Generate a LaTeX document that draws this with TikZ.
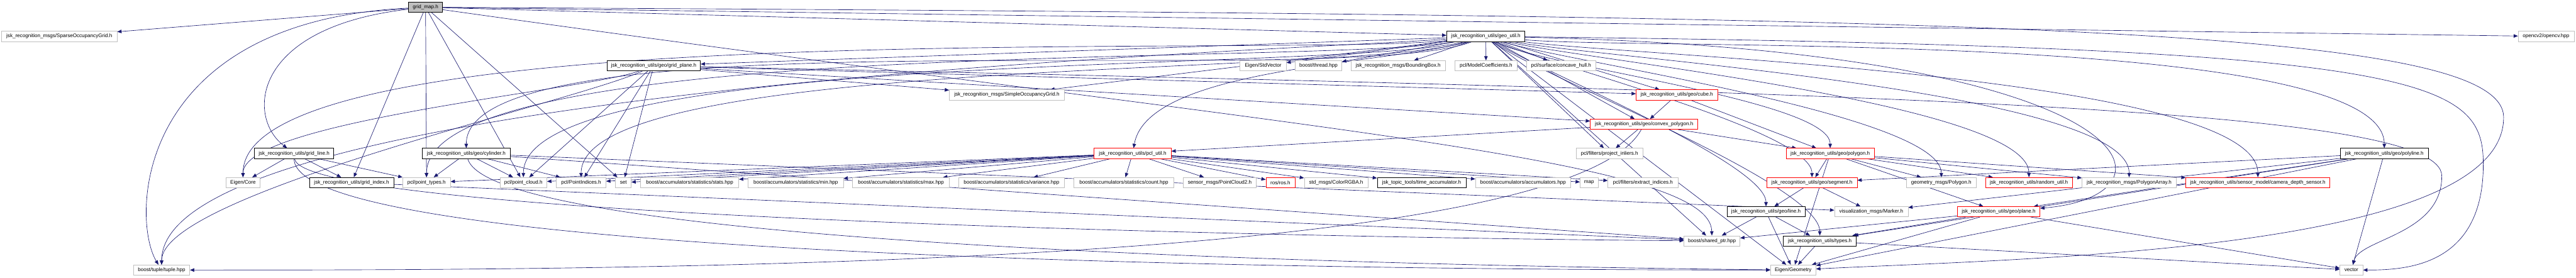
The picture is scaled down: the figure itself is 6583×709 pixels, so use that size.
\documentclass[tikz,border=0pt]{standalone}
\usepackage{fontspec}
\setmainfont{Liberation Sans}
\usetikzlibrary{arrows.meta, backgrounds}
\definecolor{azulflecha}{RGB}{25,25,112}
\definecolor{grisborde}{RGB}{191,191,191}

\begin{document}
\begin{tikzpicture}[x=0.1mm, y=-0.1mm,
        caja/.style={rectangle, draw, fill=white, line width=0.3pt, inner sep=0pt, minimum height=2.6mm, align=center, font=\fontsize{3.7pt}{4.4pt}\selectfont},
        externo/.style={caja, draw=grisborde},
        archivo/.style={caja, draw=black},
        truncado/.style={caja, draw=red},
        raiz/.style={caja, draw=black, fill=grisborde},
        flecha/.style={-{Triangle[length=1.1mm, width=0.9mm]}, color=azulflecha, line width=0.3pt},
        baja/.style={out=#1, in=90, looseness=0.35}]

    \useasboundingbox (0,0) rectangle (6583,709);

    % fila 0 y 1
    \node[raiz, minimum width=8.7mm] (gmap) at (1087.5,18.5) {grid\_map.h};
    \node[externo, minimum width=29.5mm] (sparse) at (151.5,93) {jsk\_recognition\_msgs/SparseOccupancyGrid.h};
    \node[archivo, minimum width=20mm] (geo) at (3797,93) {jsk\_recognition\_utils/geo\_util.h};
    \node[externo, minimum width=14.3mm] (opencv) at (6506.5,93) {opencv2/opencv.hpp};

    % fila 2 a 4
    \node[archivo, minimum width=23.9mm] (gplane) at (1670.5,168) {jsk\_recognition\_utils/geo/grid\_plane.h};
    \node[externo, minimum width=11.8mm] (stdvec) at (3228,168) {Eigen/StdVector};
    \node[externo, minimum width=11.9mm] (thread) at (3369.5,168) {boost/thread.hpp};
    \node[externo, minimum width=24mm] (bbox) at (3573,168) {jsk\_recognition\_msgs/BoundingBox.h};
    \node[externo, minimum width=15.9mm] (modelc) at (3797.5,168) {pcl/ModelCoefficients.h};
    \node[externo, minimum width=17.7mm] (concave) at (3989.5,168) {pcl/surface/concave\_hull.h};
    \node[externo, minimum width=29.4mm] (simpleocc) at (2573,242.5) {jsk\_recognition\_msgs/SimpleOccupancyGrid.h};
    \node[truncado, minimum width=20.8mm] (cube) at (4285,242.5) {jsk\_recognition\_utils/geo/cube.h};
    \node[truncado, minimum width=27.5mm] (convex) at (4201.5,317.5) {jsk\_recognition\_utils/geo/convex\_polygon.h};

    % fila 5
    \node[archivo, minimum width=20.3mm] (gline) at (751.5,392) {jsk\_recognition\_utils/grid\_line.h};
    \node[archivo, minimum width=22.5mm] (cyl) at (1191.5,392) {jsk\_recognition\_utils/geo/cylinder.h};
    \node[truncado, minimum width=19.7mm] (pclutil) at (2894.5,392) {jsk\_recognition\_utils/pcl\_util.h};
    \node[externo, minimum width=17mm] (projin) at (4113,392) {pcl/filters/project\_inliers.h};
    \node[truncado, minimum width=22.5mm] (polygon) at (4677,392) {jsk\_recognition\_utils/geo/polygon.h};
    \node[archivo, minimum width=22.5mm] (polyline) at (6093,392) {jsk\_recognition\_utils/geo/polyline.h};

    % fila 6
    \node[externo, minimum width=8.8mm] (ecore) at (621,466.5) {Eigen/Core};
    \node[archivo, minimum width=21.5mm] (gindex) at (898.5,466.5) {jsk\_recognition\_utils/grid\_index.h};
    \node[externo, minimum width=12.2mm] (ptypes) at (1090,466.5) {pcl/point\_types.h};
    \node[externo, minimum width=12mm] (pcloud) at (1337.5,466.5) {pcl/point\_cloud.h};
    \node[externo, minimum width=12.7mm] (pidx) at (1485,466.5) {pcl/PointIndices.h};
    \node[externo, minimum width=4mm] (stdset) at (1593,466.5) {set};
    \node[externo, minimum width=25.1mm] (stats) at (1762.5,466.5) {boost/accumulators/statistics/stats.hpp};
    \node[externo, minimum width=24.3mm] (amin) at (2033.5,466.5) {boost/accumulators/statistics/min.hpp};
    \node[externo, minimum width=24.7mm] (amax) at (2302.5,466.5) {boost/accumulators/statistics/max.hpp};
    \node[externo, minimum width=27.1mm] (variance) at (2585,466.5) {boost/accumulators/statistics/variance.hpp};
    \node[externo, minimum width=25.5mm] (count) at (2872,466.5) {boost/accumulators/statistics/count.hpp};
    \node[externo, minimum width=18.7mm] (pc2) at (3117,466.5) {sensor\_msgs/PointCloud2.h};
    \node[truncado, minimum width=7.4mm] (ros) at (3272,466.5) {ros/ros.h};
    \node[externo, minimum width=16.3mm] (rgba) at (3414.5,466.5) {std\_msgs/ColorRGBA.h};
    \node[archivo, minimum width=22.7mm] (timeacc) at (3633,466.5) {jsk\_topic\_tools/time\_accumulator.h};
    \node[externo, minimum width=24.3mm] (accum) at (3892,466.5) {boost/accumulators/accumulators.hpp};
    \node[externo, minimum width=4.6mm] (stdmap) at (4061,466.5) {map};
    \node[externo, minimum width=17.9mm] (extract) at (4198.5,466.5) {pcl/filters/extract\_indices.h};
    \node[truncado, minimum width=23.1mm] (segment) at (4630.5,466.5) {jsk\_recognition\_utils/geo/segment.h};
    \node[externo, minimum width=17.7mm] (gmpoly) at (4961,466.5) {geometry\_msgs/Polygon.h};
    \node[truncado, minimum width=22.2mm] (random) at (5185,466.5) {jsk\_recognition\_utils/random\_util.h};
    \node[externo, minimum width=24.1mm] (polyarr) at (5441,466.5) {jsk\_recognition\_msgs/PolygonArray.h};
    \node[truncado, minimum width=36.8mm] (camdepth) at (5770,466.5) {jsk\_recognition\_utils/sensor\_model/camera\_depth\_sensor.h};

    % fila 7 a 9
    \node[archivo, minimum width=20mm] (line) at (4513,541) {jsk\_recognition\_utils/geo/line.h};
    \node[externo, minimum width=18.8mm] (marker) at (4782,541) {visualization\_msgs/Marker.h};
    \node[truncado, minimum width=21.1mm] (plane) at (5107.5,541) {jsk\_recognition\_utils/geo/plane.h};
    \node[externo, minimum width=14.3mm] (sptr) at (4375,615.5) {boost/shared\_ptr.hpp};
    \node[archivo, minimum width=18.7mm] (types) at (4650.5,615.5) {jsk\_recognition\_utils/types.h};
    \node[externo, minimum width=14.4mm] (tuple) at (413,690) {boost/tuple/tuple.hpp};
    \node[externo, minimum width=11.6mm] (egeom) at (4582.5,690) {Eigen/Geometry};
    \node[externo, minimum width=5.9mm] (stdvector) at (6009,690) {vector};

    \begin{pgfonlayer}{background}
    % grid_map.h
    \foreach \t in {sparse, gindex, ptypes, pcloud, stdset, geo, opencv}
        \draw[flecha] (gmap) -- (\t);
    \draw[flecha] (gmap) .. controls (340,55) and (335,560) .. (tuple);
    \draw[flecha] (gmap) .. controls (640,70) and (630,300) .. (gline);
    \draw[flecha] (gmap) .. controls (3300,330) and (4370,400) .. (sptr);
    \draw[flecha] (gmap) .. controls (5000,40) and (6398,60) .. (6398,300) .. controls (6398,640) and (5200,660) .. (egeom);

    % geo_util.h
    \foreach \t in {gplane, stdvec, thread, bbox, modelc, concave, simpleocc, cube, convex, projin, sptr, egeom}
        \draw[flecha] (geo) -- (\t);
    \foreach \t/\a in {ecore/186, tuple/184, ptypes/190, pcloud/194, pidx/197, cyl/201}
        \draw[flecha] (geo) to[baja=\a] (\t);
    \foreach \t/\a in {polygon/-30, segment/-26, line/-34, types/-38, gmpoly/-18, random/-14, polyarr/-11, camdepth/-8, polyline/-5}
        \draw[flecha] (geo) to[baja=\a] (\t);
    \draw[flecha] (geo) to[out=196, in=80, looseness=0.6] (pclutil);
    \draw[flecha] (geo) .. controls (5500,130) and (5600,500) .. (plane);
    \draw[flecha] (geo) .. controls (6200,120) and (6346,200) .. (6346,420) .. controls (6346,680) and (6150,690) .. (stdvector);

    % grid_plane.h, cube.h, convex_polygon.h
    \foreach \t in {simpleocc, cube, convex, pcloud, pidx, stdset}
        \draw[flecha] (gplane) -- (\t);
    \foreach \t/\a in {ecore/200, tuple/205}
        \draw[flecha] (gplane) to[baja=\a] (\t);
    \draw[flecha] (gplane) .. controls (5000,240) and (6240,280) .. (6240,450) .. controls (6240,600) and (6030,610) .. (stdvector);
    \foreach \t in {convex, polygon}
        \draw[flecha] (cube) -- (\t);
    \foreach \t in {projin, polygon, pclutil}
        \draw[flecha] (convex) -- (\t);
    \draw[flecha] (convex) .. controls (4000,690) and (1500,690) .. (tuple);

    % polygon.h y vecinos
    \foreach \t in {segment, gmpoly, random, polyarr, camdepth, plane, egeom}
        \draw[flecha] (polygon) -- (\t);
    \foreach \t in {line, marker}
        \draw[flecha] (segment) -- (\t);
    \foreach \t in {sptr, types, egeom}
        \draw[flecha] (line) -- (\t);
    \foreach \t in {egeom, stdvector}
        \draw[flecha] (types) -- (\t);
    \foreach \t in {sptr, types, egeom, stdvector}
        \draw[flecha] (plane) -- (\t);
    \foreach \t in {segment, marker, types, plane, stdvector, egeom}
        \draw[flecha] (polyline) -- (\t);

    % cylinder.h, grid_line.h, grid_index.h
    \foreach \t in {ptypes, pcloud, pidx, marker, sptr}
        \draw[flecha] (cyl) -- (\t);
    \draw[flecha] (cyl) .. controls (1260,640) and (3800,682) .. (egeom);
    \foreach \t in {ecore, gindex, ptypes}
        \draw[flecha] (gline) -- (\t);
    \draw[flecha] (gline) .. controls (770,560) and (3500,610) .. (sptr);
    \draw[flecha] (gline) .. controls (750,680) and (3800,690) .. (egeom);
    \draw[flecha] (gindex) -- (sptr);

    % pcl_util.h
    \foreach \t in {ptypes, pcloud, pidx, stdset, stats, amin, amax, variance, count, pc2, ros, rgba, timeacc, accum, stdmap, extract}
        \draw[flecha] (pclutil) -- (\t);
    \end{pgfonlayer}
\end{tikzpicture}
\end{document}
